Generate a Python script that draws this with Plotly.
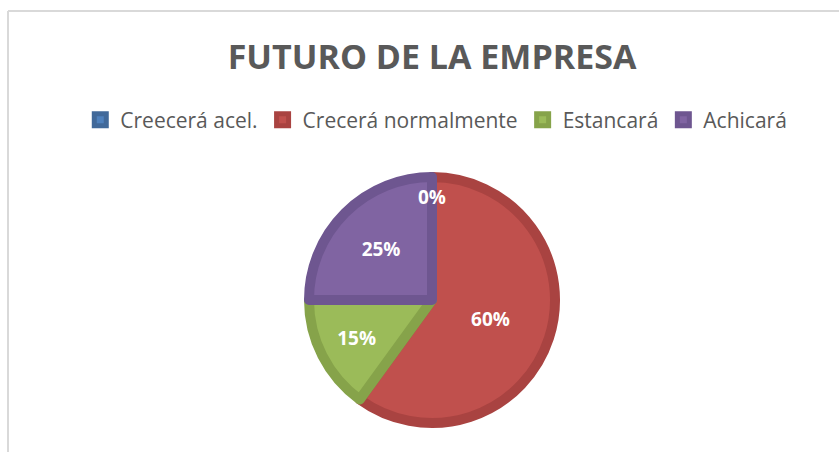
import plotly.graph_objects as go

categories = ["Creecerá acel.", "Crecerá normalmente", "Estancará", "Achicará"]
values = [0, 60, 15, 25]
colors = ["#4F81BD", "#C0504D", "#9BBB59", "#8064A2"]
edge_colors = ["#41699A", "#A94341", "#86A34A", "#6E5690"]
title_text = "FUTURO DE LA EMPRESA"

W, H = 839, 452
cx, cy, r = 432, 300, 123

fig = go.Figure()
fig.add_trace(go.Pie(
    labels=categories,
    values=values,
    sort=False,
    direction="clockwise",
    rotation=0,
    marker=dict(colors=colors, line=dict(color=edge_colors, width=10)),
    texttemplate="%{percent:.0%}",
    textposition="inside",
    insidetextorientation="horizontal",
    textfont=dict(family="Open Sans", size=19, color="white", weight="bold"),
    domain=dict(x=[(cx - r) / W, (cx + r) / W], y=[(H - cy - r) / H, (H - cy + r) / H]),
    showlegend=True,
    hoverinfo="label+percent",
))

# label of the zero-valued slice (plotly does not draw text for empty slices)
fig.add_annotation(text="%d%%" % values[0], xref="paper", yref="paper",
                   x=cx / W, y=1 - 197 / H, showarrow=False,
                   font=dict(family="Open Sans", size=19, color="white", weight="bold"))

fig.update_layout(
    width=W, height=H,
    margin=dict(l=0, r=0, t=0, b=0),
    paper_bgcolor="white",
    plot_bgcolor="white",
    title=dict(text=title_text, x=0.515, xanchor="center", y=1 - 57 / H, yanchor="middle",
               font=dict(family="Open Sans", size=34, color="#595959", weight="bold")),
    legend=dict(orientation="h", x=0.52, xanchor="center", y=1 - 120 / H, yanchor="middle",
                font=dict(family="Open Sans", size=21, color="#595959"),
                itemwidth=30, tracegroupgap=0),
    shapes=[
        dict(type="line", xref="paper", yref="paper", x0=8 / W, x1=1, y0=1 - 11 / H, y1=1 - 11 / H,
             line=dict(color="#D9D9D9", width=2)),
        dict(type="line", xref="paper", yref="paper", x0=8 / W, x1=8 / W, y0=0, y1=1 - 11 / H,
             line=dict(color="#D9D9D9", width=2)),
    ],
)

fig.write_html("out.html", config={"displayModeBar": False},
               post_script="document.body.style.margin='0';")
